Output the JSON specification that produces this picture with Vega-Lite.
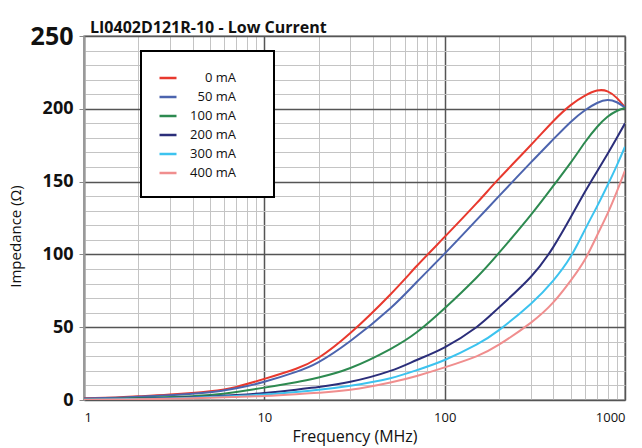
{
  "$schema": "https://vega.github.io/schema/vega-lite/v6.json",
  "width": 541,
  "height": 364,
  "autosize": {"type": "none"},
  "padding": {"left": 84, "top": 36, "right": 17, "bottom": 48},
  "title": {"text": "LI0402D121R-10 - Low Current", "anchor": "start", "frame": "group", "fontSize": 16, "fontWeight": "bold", "offset": -12, "dx": 6, "font": "Open Sans, sans-serif", "color": "#111"},
  "datasets": {
    "curves": [
      {"s": "0 mA", "f": 1, "z": 1.2}, {"s": "0 mA", "f": 1.5, "z": 1.8}, {"s": "0 mA", "f": 2, "z": 2.5}, {"s": "0 mA", "f": 3, "z": 3.7}, {"s": "0 mA", "f": 5, "z": 6}, {"s": "0 mA", "f": 7, "z": 9}, {"s": "0 mA", "f": 10, "z": 14.5}, {"s": "0 mA", "f": 15, "z": 21.5}, {"s": "0 mA", "f": 20, "z": 29}, {"s": "0 mA", "f": 30, "z": 46}, {"s": "0 mA", "f": 50, "z": 72.5}, {"s": "0 mA", "f": 70, "z": 92}, {"s": "0 mA", "f": 100, "z": 112}, {"s": "0 mA", "f": 150, "z": 135}, {"s": "0 mA", "f": 200, "z": 152}, {"s": "0 mA", "f": 300, "z": 175}, {"s": "0 mA", "f": 400, "z": 191.5}, {"s": "0 mA", "f": 500, "z": 202.5}, {"s": "0 mA", "f": 600, "z": 209}, {"s": "0 mA", "f": 700, "z": 212.5}, {"s": "0 mA", "f": 800, "z": 212}, {"s": "0 mA", "f": 900, "z": 207.5}, {"s": "0 mA", "f": 1000, "z": 201},
      {"s": "50 mA", "f": 1, "z": 1}, {"s": "50 mA", "f": 1.5, "z": 1.5}, {"s": "50 mA", "f": 2, "z": 2.2}, {"s": "50 mA", "f": 3, "z": 3.3}, {"s": "50 mA", "f": 5, "z": 5.3}, {"s": "50 mA", "f": 7, "z": 8}, {"s": "50 mA", "f": 10, "z": 12.5}, {"s": "50 mA", "f": 15, "z": 19.3}, {"s": "50 mA", "f": 20, "z": 26}, {"s": "50 mA", "f": 30, "z": 40.5}, {"s": "50 mA", "f": 50, "z": 63}, {"s": "50 mA", "f": 70, "z": 81}, {"s": "50 mA", "f": 100, "z": 100.5}, {"s": "50 mA", "f": 150, "z": 123.5}, {"s": "50 mA", "f": 200, "z": 140}, {"s": "50 mA", "f": 300, "z": 163}, {"s": "50 mA", "f": 400, "z": 179}, {"s": "50 mA", "f": 500, "z": 191}, {"s": "50 mA", "f": 600, "z": 199}, {"s": "50 mA", "f": 700, "z": 204}, {"s": "50 mA", "f": 800, "z": 206}, {"s": "50 mA", "f": 900, "z": 204.5}, {"s": "50 mA", "f": 1000, "z": 201},
      {"s": "100 mA", "f": 1, "z": 0.6}, {"s": "100 mA", "f": 1.5, "z": 0.9}, {"s": "100 mA", "f": 2, "z": 1.3}, {"s": "100 mA", "f": 3, "z": 2}, {"s": "100 mA", "f": 5, "z": 3.5}, {"s": "100 mA", "f": 7, "z": 5.5}, {"s": "100 mA", "f": 10, "z": 8.5}, {"s": "100 mA", "f": 15, "z": 12.2}, {"s": "100 mA", "f": 20, "z": 15.5}, {"s": "100 mA", "f": 30, "z": 22}, {"s": "100 mA", "f": 50, "z": 35}, {"s": "100 mA", "f": 70, "z": 46.5}, {"s": "100 mA", "f": 100, "z": 63}, {"s": "100 mA", "f": 150, "z": 84}, {"s": "100 mA", "f": 200, "z": 101}, {"s": "100 mA", "f": 300, "z": 127}, {"s": "100 mA", "f": 400, "z": 147}, {"s": "100 mA", "f": 500, "z": 163}, {"s": "100 mA", "f": 600, "z": 177}, {"s": "100 mA", "f": 700, "z": 187.5}, {"s": "100 mA", "f": 800, "z": 194.5}, {"s": "100 mA", "f": 900, "z": 198.5}, {"s": "100 mA", "f": 1000, "z": 200.5},
      {"s": "200 mA", "f": 1, "z": 0.4}, {"s": "200 mA", "f": 1.5, "z": 0.6}, {"s": "200 mA", "f": 2, "z": 0.9}, {"s": "200 mA", "f": 3, "z": 1.4}, {"s": "200 mA", "f": 5, "z": 2.4}, {"s": "200 mA", "f": 7, "z": 3.4}, {"s": "200 mA", "f": 10, "z": 4.8}, {"s": "200 mA", "f": 15, "z": 7}, {"s": "200 mA", "f": 20, "z": 9}, {"s": "200 mA", "f": 30, "z": 12.5}, {"s": "200 mA", "f": 50, "z": 20}, {"s": "200 mA", "f": 70, "z": 27.5}, {"s": "200 mA", "f": 100, "z": 36.2}, {"s": "200 mA", "f": 150, "z": 50}, {"s": "200 mA", "f": 200, "z": 63.5}, {"s": "200 mA", "f": 300, "z": 84.5}, {"s": "200 mA", "f": 400, "z": 105}, {"s": "200 mA", "f": 500, "z": 125.5}, {"s": "200 mA", "f": 600, "z": 143}, {"s": "200 mA", "f": 700, "z": 157}, {"s": "200 mA", "f": 800, "z": 169}, {"s": "200 mA", "f": 900, "z": 180}, {"s": "200 mA", "f": 1000, "z": 190},
      {"s": "300 mA", "f": 1, "z": 0.3}, {"s": "300 mA", "f": 1.5, "z": 0.5}, {"s": "300 mA", "f": 2, "z": 0.7}, {"s": "300 mA", "f": 3, "z": 1.1}, {"s": "300 mA", "f": 5, "z": 2}, {"s": "300 mA", "f": 7, "z": 2.8}, {"s": "300 mA", "f": 10, "z": 3.8}, {"s": "300 mA", "f": 15, "z": 5.5}, {"s": "300 mA", "f": 20, "z": 7}, {"s": "300 mA", "f": 30, "z": 9.8}, {"s": "300 mA", "f": 50, "z": 15}, {"s": "300 mA", "f": 70, "z": 20.5}, {"s": "300 mA", "f": 100, "z": 27.5}, {"s": "300 mA", "f": 150, "z": 38}, {"s": "300 mA", "f": 200, "z": 48}, {"s": "300 mA", "f": 300, "z": 66}, {"s": "300 mA", "f": 400, "z": 82}, {"s": "300 mA", "f": 500, "z": 98.5}, {"s": "300 mA", "f": 600, "z": 117}, {"s": "300 mA", "f": 700, "z": 133}, {"s": "300 mA", "f": 800, "z": 147.5}, {"s": "300 mA", "f": 900, "z": 161}, {"s": "300 mA", "f": 1000, "z": 174},
      {"s": "400 mA", "f": 1, "z": 0.2}, {"s": "400 mA", "f": 1.5, "z": 0.35}, {"s": "400 mA", "f": 2, "z": 0.5}, {"s": "400 mA", "f": 3, "z": 0.8}, {"s": "400 mA", "f": 5, "z": 1.5}, {"s": "400 mA", "f": 7, "z": 2.1}, {"s": "400 mA", "f": 10, "z": 2.8}, {"s": "400 mA", "f": 15, "z": 4}, {"s": "400 mA", "f": 20, "z": 5}, {"s": "400 mA", "f": 30, "z": 7}, {"s": "400 mA", "f": 50, "z": 12}, {"s": "400 mA", "f": 70, "z": 16.5}, {"s": "400 mA", "f": 100, "z": 22.4}, {"s": "400 mA", "f": 150, "z": 30}, {"s": "400 mA", "f": 200, "z": 38}, {"s": "400 mA", "f": 300, "z": 53}, {"s": "400 mA", "f": 400, "z": 67}, {"s": "400 mA", "f": 500, "z": 82}, {"s": "400 mA", "f": 600, "z": 96.5}, {"s": "400 mA", "f": 700, "z": 113}, {"s": "400 mA", "f": 800, "z": 128}, {"s": "400 mA", "f": 900, "z": 143}, {"s": "400 mA", "f": 1000, "z": 157.5}
    ]
  },
  "data": {"name": "curves"},
  "mark": {"type": "line", "interpolate": "natural", "strokeWidth": 2, "clip": true},
  "encoding": {
    "x": {
      "field": "f", "type": "quantitative",
      "scale": {"type": "log", "domain": [1, 1000], "nice": false},
      "axis": {
        "values": [1, 2, 3, 4, 5, 6, 7, 8, 9, 10, 20, 30, 40, 50, 60, 70, 80, 90, 100, 200, 300, 400, 500, 600, 700, 800, 900, 1000],
        "format": "d",
        "labelExpr": "indexof([1, 10, 100, 1000], datum.value) >= 0 ? datum.label : ''",
        "ticks": false,
        "labelPadding": 11,
        "labelFontSize": 13,
        "labelColor": "#111",
        "labelFont": "Open Sans, sans-serif",
        "domain": false,
        "gridColor": {"condition": {"test": "indexof([1, 10, 100, 1000], datum.value) >= 0", "value": "#555"}, "value": "#c4c4c4"},
        "gridWidth": {"condition": {"test": "indexof([1, 10, 100, 1000], datum.value) >= 0", "value": 1.5}, "value": 1},
        "title": "Frequency (MHz)",
        "titleFontSize": 16,
        "titleFontWeight": "normal",
        "titleFont": "Open Sans, sans-serif",
        "titleColor": "#111",
        "titlePadding": 4
      }
    },
    "y": {
      "field": "z", "type": "quantitative",
      "scale": {"domain": [0, 250], "nice": false},
      "axis": {
        "values": [0, 10, 20, 30, 40, 50, 60, 70, 80, 90, 100, 110, 120, 130, 140, 150, 160, 170, 180, 190, 200, 210, 220, 230, 240, 250],
        "labelExpr": "datum.value % 50 === 0 ? datum.label : ''",
        "labelFontSize": {"condition": {"test": "datum.value === 250", "value": 25}, "value": 18},
        "labelFontWeight": "bold",
        "labelColor": "#111",
        "labelFont": "Open Sans, sans-serif",
        "labelPadding": 6,
        "tickSize": 5,
        "tickColor": "#888",
        "tickOpacity": {"condition": {"test": "datum.value % 50 === 0", "value": 1}, "value": 0},
        "domainColor": "#999",
        "domainWidth": 2,
        "gridColor": {"condition": {"test": "datum.value % 50 === 0", "value": "#555"}, "value": "#c4c4c4"},
        "gridWidth": {"condition": {"test": "datum.value % 50 === 0", "value": 1.5}, "value": 1},
        "title": "Impedance (Ω)",
        "titleFontSize": 15,
        "titleFontWeight": "normal",
        "titleFont": "Open Sans, sans-serif",
        "titleColor": "#111",
        "titleX": -69,
        "titleY": 200,
        "titleBaseline": "middle"
      }
    },
    "color": {
      "field": "s", "type": "nominal",
      "scale": {"domain": ["0 mA", "50 mA", "100 mA", "200 mA", "300 mA", "400 mA"], "range": ["#e8392e", "#4c64ae", "#2d8a50", "#2b2e7a", "#3cc3ef", "#f08e8e"]},
      "legend": {
        "orient": "none", "legendX": 57, "legendY": 15,
        "fillColor": "white", "strokeColor": "black",
        "padding": 17,
        "symbolType": "stroke", "symbolSize": 289, "symbolStrokeWidth": 2.5,
        "labelAlign": "right", "labelOffset": 58, "labelFontSize": 13,
        "labelFont": "Open Sans, sans-serif",
        "labelColor": "#111",
        "rowPadding": 2,
        "title": " ", "titleOrient": "right", "titlePadding": 21
      }
    },
    "order": {"field": "s", "sort": "descending"}
  },
  "config": {
    "view": {"stroke": "#999", "strokeWidth": 1.5},
    "legend": {"strokeWidth": 2}
  }
}
